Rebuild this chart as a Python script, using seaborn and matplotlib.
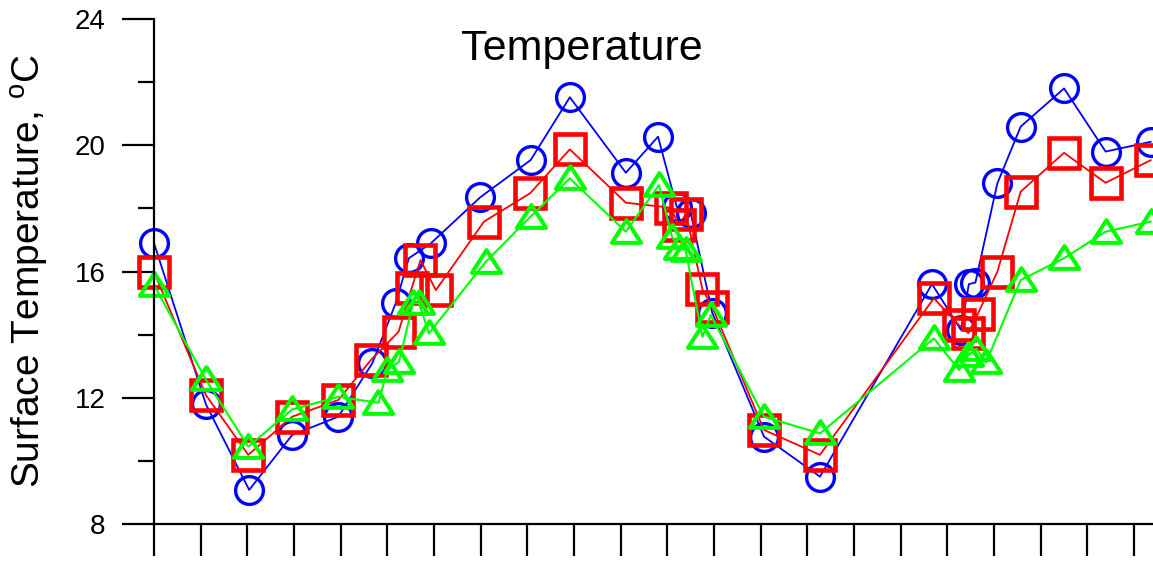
import matplotlib
matplotlib.use("Agg")
import matplotlib.pyplot as plt
import seaborn as sns
from matplotlib.path import Path


# x positions are in tick units (one tick per period)
blue_x = [0.0, 1.11, 2.04, 2.96, 3.95, 4.68, 5.18, 5.46, 5.93, 6.99, 8.07, 8.91,
          10.11, 10.8, 11.2, 11.5, 11.96, 13.07, 14.27, 16.67, 17.29, 17.46,
          17.6, 18.07, 18.57, 19.5, 20.39, 21.36]
blue_y = [16.9, 11.8, 9.08, 10.82, 11.4, 13.1, 15.0, 16.42, 16.89, 18.35, 19.53, 21.52,
          19.13, 20.27, 18.05, 17.85, 14.7, 10.77, 9.5, 15.6, 14.15, 15.6,
          15.65, 18.79, 20.59, 21.8, 19.8, 20.11]

red_x = [0.0, 1.11, 2.02, 2.96, 3.95, 4.65, 5.24, 5.52, 5.71, 6.04, 7.07, 8.06,
         8.91, 10.11, 11.08, 11.24, 11.4, 11.75, 11.96, 13.07, 14.27, 16.71,
         17.25, 17.45, 17.65, 18.07, 18.57, 19.5, 20.39, 21.36]
red_y = [15.98, 12.09, 10.19, 11.4, 11.93, 13.2, 14.09, 15.47, 16.36, 15.41, 17.58, 18.48,
         19.87, 18.18, 18.02, 17.47, 17.82, 15.44, 14.88, 10.98, 10.19, 15.15,
         14.3, 14.05, 14.65, 15.99, 18.53, 19.76, 18.81, 19.53]

green_x = [0.0, 1.11, 2.02, 2.96, 3.95, 4.81, 5.0, 5.25, 5.55, 5.68, 5.89, 7.11,
           8.07, 8.91, 10.11, 10.82, 11.1, 11.25, 11.39, 11.75, 11.93, 13.07,
           14.27, 16.71, 17.25, 17.45, 17.62, 17.83, 18.57, 19.5, 20.39, 21.36]
green_y = [15.57, 12.58, 10.45, 11.63, 12.03, 11.84, 12.88, 13.14, 14.99, 15.0, 14.04, 16.31,
           17.74, 18.95, 17.26, 18.74, 17.1, 16.73, 16.68, 13.93, 14.62, 11.4,
           10.87, 13.88, 12.88, 13.35, 13.55, 13.12, 15.73, 16.42, 17.26, 17.58]

x_ticks = list(range(22))
y_major = [8, 12, 16, 20, 24]
y_minor = [10, 14, 18, 22]

sns.set_theme(style="ticks")
plt.rcParams["font.family"] = ["Liberation Sans", "DejaVu Sans"]
plt.rcParams["mathtext.fontset"] = "custom"
plt.rcParams["mathtext.rm"] = "Liberation Sans"

fig = plt.figure(figsize=(11.53, 5.61), dpi=100)
ax = fig.add_axes([154 / 1153, 1 - 524 / 561, 999 / 1153, 505 / 561])

# flattened open triangle
tri = Path([(-1, -0.71), (1, -0.71), (0, 0.85), (-1, -0.71)],
           [Path.MOVETO, Path.LINETO, Path.LINETO, Path.CLOSEPOLY])

sns.lineplot(x=blue_x, y=blue_y, sort=False, estimator=None, ax=ax,
             color="#0000ff", linewidth=1.3, marker="o", markersize=20,
             markerfacecolor="none", markeredgecolor="#0000ff",
             markeredgewidth=2.4, clip_on=False)
sns.lineplot(x=red_x, y=red_y, sort=False, estimator=None, ax=ax,
             color="#ff0000", linewidth=1.3, marker="s", markersize=21,
             markerfacecolor="none", markeredgecolor="#ff0000",
             markeredgewidth=3.3, clip_on=False)
sns.lineplot(x=green_x, y=green_y, sort=False, estimator=None, ax=ax,
             color="#00ff00", linewidth=1.5, marker=tri, markersize=21,
             markerfacecolor="none", markeredgecolor="#00ff00",
             markeredgewidth=2.9, clip_on=False)

ax.set_xlim(0, 999 / 46.67)
ax.set_ylim(8, 24)
ax.set_xticks(x_ticks)
ax.set_yticks(y_major)
ax.set_yticks(y_minor, minor=True)
ax.set_yticklabels([str(v) for v in y_major])
ax.set_xlabel("")
ax.set_ylabel("")

for side in ["top", "right"]:
    ax.spines[side].set_visible(False)
for side in ["left", "bottom"]:
    ax.spines[side].set_linewidth(1.6)
    ax.spines[side].set_color("black")

ax.tick_params(axis="x", which="major", direction="out", length=23, width=1.6,
               color="black", labelbottom=False)
ax.tick_params(axis="y", which="major", direction="out", length=23, width=1.6,
               color="black", labelsize=20, pad=12, labelcolor="black")
ax.tick_params(axis="y", which="minor", direction="out", length=11.5, width=1.6,
               color="black")

ax.text((582 - 154) / 999, (524 - 60) / 505, "Temperature", transform=ax.transAxes,
        ha="center", va="baseline", fontsize=31, color="black")
fig.text(30 / 1153, 1 - 271 / 561, r"Surface Temperature, $^{\mathrm{o}}$C",
         rotation=90, ha="center", va="center", fontsize=28, color="black")

fig.savefig("out.png", dpi=100, facecolor="white")
